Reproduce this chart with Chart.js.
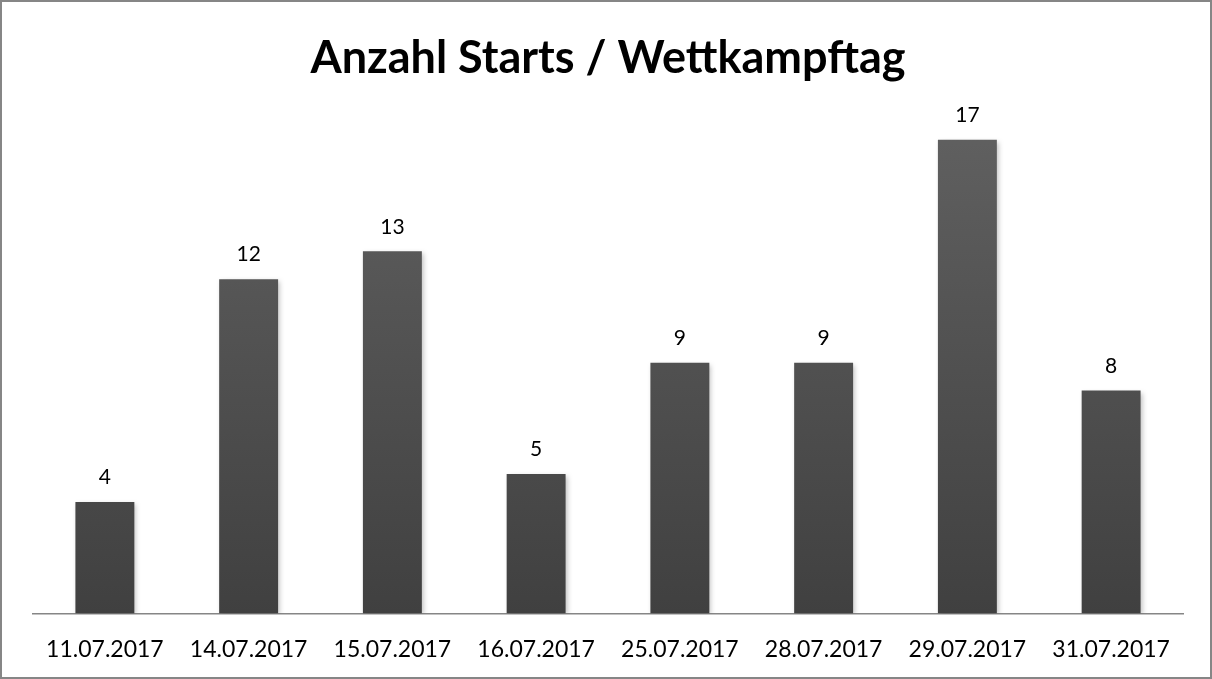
<!DOCTYPE html>
<html>
<head>
<meta charset="utf-8">
<script src="https://cdn.jsdelivr.net/npm/chart.js@4/dist/chart.umd.min.js"></script>
<style>
  html, body { margin: 0; padding: 0; background: #fff; }
  #wrap {
    position: relative;
    width: 1208px; height: 675px;
    border: 2px solid #868686;
    background: #fff;
  }
</style>
</head>
<body>
<div id="wrap"><canvas id="chart" width="1208" height="675"></canvas></div>
<script>
const categories = ["11.07.2017", "14.07.2017", "15.07.2017", "16.07.2017",
                    "25.07.2017", "28.07.2017", "29.07.2017", "31.07.2017"];
const starts = [4, 12, 13, 5, 9, 9, 17, 8];
const yMax = 18;

const FONT = "Lato, 'Open Sans', sans-serif";

// Bar gradient: lighter at the top, darker at the axis
function barGradient(context) {
  const area = context.chart.chartArea;
  if (!area) return "#555";
  const g = context.chart.ctx.createLinearGradient(0, area.top, 0, area.bottom);
  g.addColorStop(0, "#616161");
  g.addColorStop(1, "#404040");
  return g;
}

// Value labels above each bar
const valueLabels = {
  id: "valueLabels",
  afterDatasetsDraw(chart) {
    const ctx = chart.ctx;
    const meta = chart.getDatasetMeta(0);
    ctx.save();
    ctx.font = "21px " + FONT;
    ctx.fillStyle = "#000";
    ctx.textAlign = "center";
    ctx.textBaseline = "bottom";
    meta.data.forEach((bar, i) => {
      ctx.fillText(String(starts[i]), bar.x, bar.y - 14);
    });
    ctx.restore();
  }
};

// Soft shadow under the bars
const barShadow = {
  id: "barShadow",
  beforeDatasetsDraw(chart) {
    chart.ctx.save();
    chart.ctx.shadowColor = "rgba(0,0,0,0.25)";
    chart.ctx.shadowBlur = 5;
    chart.ctx.shadowOffsetX = 2;
    chart.ctx.shadowOffsetY = 2;
  },
  afterDatasetsDraw(chart) {
    chart.ctx.restore();
  }
};

new Chart(document.getElementById("chart").getContext("2d"), {
  type: "bar",
  data: {
    labels: categories,
    datasets: [{
      data: starts,
      backgroundColor: barGradient,
      borderWidth: 0,
      categoryPercentage: 1,
      barPercentage: 0.41,
    }],
  },
  options: {
    responsive: false,
    animation: false,
    layout: { padding: { left: 31, right: 27, top: 0, bottom: 0 } },
    plugins: {
      legend: { display: false },
      tooltip: { enabled: false },
      title: {
        display: true,
        text: "Anzahl Starts / Wettkampftag",
        color: "#000",
        font: { family: FONT, size: 45, weight: "bold" },
        padding: { top: 29, bottom: 27 },
      },
    },
    scales: {
      x: {
        grid: { display: false },
        border: { color: "#868686", width: 1.5 },
        ticks: {
          color: "#000",
          font: { family: FONT, size: 23 },
          padding: 14,
          maxRotation: 0,
        },
      },
      y: {
        display: false,
        min: 0,
        max: yMax,
      },
    },
  },
  plugins: [barShadow, valueLabels],
});
</script>
</body>
</html>
